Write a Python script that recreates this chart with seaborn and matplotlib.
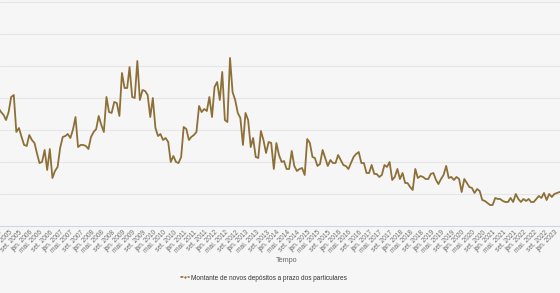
import matplotlib
matplotlib.use("Agg")
import matplotlib.pyplot as plt
import seaborn as sns
import pandas as pd
import numpy as np

# ---- data (monthly, Dec 2004 .. Feb 2023) ----
start_month = "2004-12-01"
montante = [
    1844, 1781, 1734, 1656, 1781, 2016, 2047, 1469, 1531, 1391, 1266,
    1250, 1422, 1344, 1297, 1141, 984, 1000, 1188, 875, 1203,
    750, 859, 922, 1219, 1391, 1406, 1438, 1375, 1500, 1703,
    1234, 1266, 1266, 1250, 1203, 1391, 1469, 1516, 1719, 1578,
    1469, 2016, 1781, 1766, 1938, 1922, 1719, 2391, 2156, 2156,
    2484, 2016, 2000, 2578, 1969, 2125, 2109, 2047, 1703, 2000,
    1531, 1406, 1438, 1344, 1375, 1313, 1000, 1094, 1000, 984,
    1078, 1547, 1516, 1344, 1391, 1422, 1469, 1875, 1781, 1828,
    1797, 2016, 1703, 2172, 2250, 1969, 2406, 1656, 1625,
    2625,
    2094, 1969, 1766, 1688, 1266, 1766, 1656, 1234, 1375, 1078,
    1063, 1484, 1344, 1141, 1313, 1297, 891, 1297, 1109, 1000,
    1016, 891, 891, 1172, 938, 859, 891, 906, 797, 1359,
    1297, 1078, 1063, 938, 969, 1188, 1063, 938, 1031, 984,
    984, 1109, 1031, 953, 938, 891, 984, 1078, 1125, 1156,
    984, 984, 828, 828, 953, 813, 813, 766, 797, 953,
    922, 1000, 719, 766, 891, 734, 828, 672, 672, 609,
    563, 891, 750, 781, 766, 734, 734, 813, 828, 719,
    656, 734, 797, 938, 750, 766, 719, 766, 734, 531,
    734, 672, 609, 594, 516, 578, 547, 406, 391, 359,
    328, 328, 438, 422, 422, 391, 375, 375, 438, 375,
    500, 422, 375, 422, 391, 422, 375, 375, 422, 469,
    438, 516, 406, 500, 453, 500, 516, 531,
]
datas = pd.date_range(start_month, periods=len(montante), freq="MS")
df = pd.DataFrame({"Tempo": datas, "Montante": montante})

serie_nome = "Montante de novos depósitos a prazo dos particulares"
meses_pt = {1: "jan.", 5: "mai.", 9: "set."}
tick_datas = pd.date_range("2005-01-01", "2023-01-01", freq="4MS")
tick_labels = [f"{meses_pt[d.month]} {d.year}" for d in tick_datas]
grid_vals = [0, 500, 1000, 1500, 2000, 2500, 3000, 3500]

# ---- style ----
bg = "#f6f6f6"
line_color = "#8d7037"
sns.set_theme(style="white")
plt.rcParams["font.family"] = ["Liberation Sans", "DejaVu Sans"]

fig = plt.figure(figsize=(5.6, 2.93), dpi=100, facecolor=bg)
ax = fig.add_axes([0, 67 / 293, 1, 226 / 293])
ax.set_facecolor(bg)

sns.lineplot(data=df, x="Tempo", y="Montante", ax=ax, color=line_color,
             linewidth=1.3, label=serie_nome, legend=False)

ax.set_xlim(pd.Timestamp("2004-12-20"), pd.Timestamp("2023-02-06"))
ax.set_ylim(0, 3531.25)
ax.set_yticks(grid_vals)
ax.yaxis.grid(True, color="#e6e6e6", linewidth=0.75)
ax.xaxis.grid(False)
ax.tick_params(axis="y", left=False, labelleft=False)
ax.set_xticks(tick_datas)
ax.set_xticklabels(tick_labels, rotation=45, ha="right", va="center",
                   rotation_mode="anchor", fontsize=4.8, color="#707070")
ax.tick_params(axis="x", length=0, pad=4)
ax.set_xlabel("")
ax.set_ylabel("")
for s in ["top", "left", "right"]:
    ax.spines[s].set_visible(False)
ax.spines["bottom"].set_color("#ccd6eb")
ax.spines["bottom"].set_linewidth(0.8)

fig.text(287 / 560, 1 - 261 / 293, "Tempo", ha="center", va="center",
         fontsize=5.2, color="#666666")

h, l = ax.get_legend_handles_labels()
leg = fig.legend(h, l, loc="center left", bbox_to_anchor=(175 / 560, 1 - 278 / 293),
                 frameon=False, fontsize=4.7, handlelength=1.2, handletextpad=0.4,
                 labelcolor="#333333")
for hd in leg.legend_handles:
    hd.set_marker("o")
    hd.set_markersize(2.5)
    hd.set_linewidth(1.2)

fig.savefig("out.png", dpi=100, facecolor=bg)
